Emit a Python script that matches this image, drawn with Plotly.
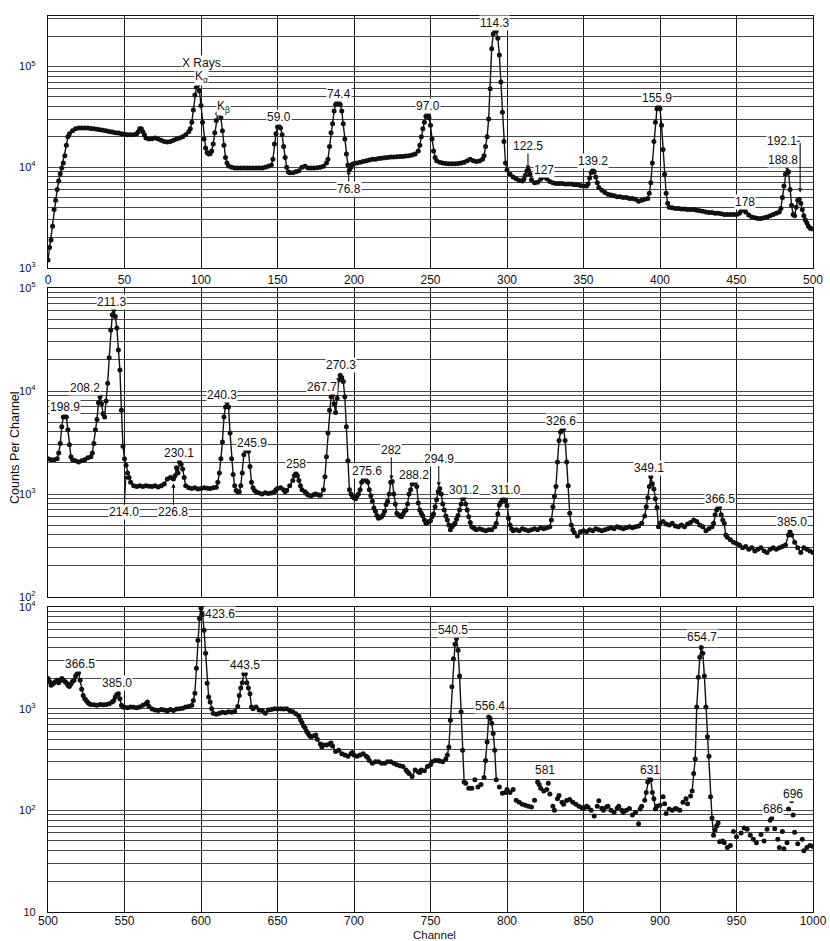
import numpy as np
import plotly.graph_objects as go

# ---------------- spectrum data (channel, counts per channel) ----------------
# upper range, channels 0-500
ch1 = [0, 1, 2, 3, 4, 5, 6, 7, 8, 9,
       10, 11, 12, 13, 14, 16, 18, 20, 22, 24,
       26, 28, 30, 32, 34, 36, 38, 40, 42, 44,
       46, 48, 50, 52, 54, 56, 58, 59, 60, 61,
       62, 63, 64, 66, 68, 70, 72, 74, 76, 78,
       80, 82, 84, 86, 88, 90, 92, 93, 94, 95,
       96, 97, 98, 99, 100, 101, 102, 103, 104, 105,
       106, 107, 108, 109, 110, 111, 112, 113, 114, 115,
       116, 117, 118, 120, 122, 124, 126, 128, 130, 132,
       134, 136, 138, 140, 142, 144, 146, 147, 148, 149,
       150, 151, 152, 153, 154, 155, 156, 157, 158, 160,
       162, 164, 166, 168, 170, 172, 174, 176, 178, 180,
       182, 183, 184, 185, 186, 187, 188, 189, 190, 191,
       192, 193, 194, 195, 196, 197, 198, 199, 200, 202,
       204, 206, 208, 210, 212, 214, 216, 218, 220, 222,
       224, 226, 228, 230, 232, 234, 236, 238, 240, 242,
       243, 244, 245, 246, 247, 248, 249, 250, 251, 252,
       253, 254, 256, 258, 260, 262, 264, 266, 268, 270,
       272, 274, 276, 278, 280, 282, 284, 285, 286, 287,
       288, 289, 290, 291, 292, 293, 294, 295, 296, 297,
       298, 299, 300, 302, 304, 306, 308, 310, 311, 312,
       313, 314, 315, 316, 318, 320, 322, 324, 325, 326,
       328, 330, 332, 334, 336, 338, 340, 342, 344, 346,
       348, 350, 352, 353, 354, 355, 356, 357, 358, 359,
       360, 362, 364, 366, 368, 370, 372, 374, 376, 378,
       380, 382, 384, 386, 388, 390, 392, 393, 394, 395,
       396, 397, 398, 399, 400, 401, 402, 403, 404, 405,
       406, 408, 410, 412, 414, 416, 418, 420, 422, 424,
       426, 428, 430, 432, 434, 436, 438, 440, 442, 444,
       446, 448, 450, 452, 453, 454, 455, 456, 458, 460,
       462, 464, 466, 468, 470, 472, 474, 476, 478, 479,
       480, 481, 482, 483, 484, 485, 486, 487, 488, 489,
       490, 491, 492, 493, 494, 495, 496, 497, 498, 499]
cps1 = [1200, 1600, 1900, 2600, 3800, 4700, 6000, 7300, 8600, 9800,
        11000, 13000, 16500, 20000, 21500, 23000, 24000, 24500, 24500, 24500,
        24500, 24200, 24000, 23800, 23500, 23200, 23000, 22600, 22300, 22000,
        21800, 21500, 21200, 21000, 21000, 21000, 21500, 22500, 24000, 24000,
        22500, 21000, 19500, 19000, 19200, 19500, 19000, 18500, 18000, 17800,
        18000, 18500, 19000, 19500, 20000, 21000, 22500, 24000, 28000, 37000,
        52000, 62000, 66000, 57000, 41000, 28000, 19000, 15500, 14000, 13500,
        13600, 14500, 17000, 22000, 29000, 34000, 35000, 31000, 23000, 16500,
        12500, 11000, 10300, 10000, 9800, 9800, 9800, 9800, 9800, 9800,
        9800, 9800, 9800, 9800, 10000, 10200, 10500, 12000, 17000, 21500,
        25000, 25500, 24500, 21000, 16000, 12500, 10000, 9000, 8800, 8800,
        9000, 9200, 10000, 10200, 9800, 9800, 9800, 9900, 10000, 10200,
        11000, 12000, 16000, 22000, 27000, 36000, 42000, 45000, 45000, 42000,
        36000, 27000, 19000, 13500, 10500, 9400, 10000, 10700, 10800, 11000,
        11200, 11400, 11600, 11800, 12000, 12000, 12200, 12300, 12400, 12500,
        12600, 12600, 12700, 12800, 12800, 12900, 13000, 13200, 13500, 14500,
        16500, 20000, 24000, 28000, 32000, 33000, 31000, 26000, 19000, 14500,
        12500, 11600, 11200, 11000, 10900, 10800, 10800, 10800, 10900, 11000,
        11200, 11600, 12000, 11600, 11400, 11500, 12000, 13000, 16000, 20000,
        30000, 60000, 150000, 210000, 230000, 225000, 190000, 130000, 70000, 35000,
        18000, 11000, 9400, 8500, 8000, 7700, 7400, 7300, 7600, 8300,
        9200, 9400, 8500, 7500, 7000, 7100, 7600, 8000, 8100, 7700,
        7200, 7000, 6900, 6900, 6900, 6800, 6800, 6800, 6700, 6700,
        6600, 6500, 6500, 6800, 7800, 8800, 9300, 9000, 8000, 7000,
        6300, 5900, 5600, 5400, 5300, 5200, 5100, 5100, 5000, 5000,
        4900, 4900, 4800, 4600, 4700, 4800, 4900, 5500, 7000, 11000,
        18000, 28000, 38000, 42000, 38000, 26000, 15000, 8500, 5500, 4400,
        4000, 3950, 3900, 3900, 3850, 3850, 3800, 3800, 3800, 3750,
        3700, 3650, 3600, 3550, 3550, 3500, 3500, 3450, 3400, 3400,
        3400, 3400, 3400, 3500, 3700, 3850, 3800, 3600, 3350, 3200,
        3150, 3100, 3100, 3150, 3200, 3300, 3400, 3500, 3600, 3900,
        5000, 6500, 8500, 10200, 9000, 6000, 4200, 3400, 3300, 4000,
        4700, 4800, 4400, 3800, 3300, 3000, 2800, 2600, 2500, 2450]

# middle range
ch2 = [500, 502, 504, 506, 507, 508, 509, 510, 511, 512,
       513, 514, 515, 516, 518, 520, 522, 524, 526, 528,
       529, 530, 531, 532, 533, 534, 535, 536, 537, 538,
       539, 540, 541, 542, 543, 544, 545, 546, 547, 548,
       549, 550, 551, 552, 553, 554, 556, 558, 560, 562,
       564, 566, 568, 570, 572, 574, 576, 578, 580, 582,
       583, 584, 585, 586, 587, 588, 589, 590, 592, 594,
       596, 598, 600, 602, 604, 606, 608, 610, 611, 612,
       613, 614, 615, 616, 617, 618, 619, 620, 621, 622,
       623, 624, 625, 626, 627, 628, 629, 630, 631, 632,
       633, 634, 635, 636, 638, 640, 642, 644, 646, 648,
       649, 650, 652, 654, 655, 656, 658, 660, 661, 662,
       663, 664, 665, 666, 668, 669, 670, 672, 674, 675,
       677, 678, 680, 681, 682, 683, 684, 685, 686, 687,
       688, 689, 690, 691, 692, 693, 694, 695, 696, 697,
       698, 699, 700, 701, 702, 703, 704, 705, 706, 707,
       708, 709, 710, 711, 712, 713, 714, 715, 716, 717,
       718, 719, 720, 721, 722, 723, 724, 725, 726, 727,
       728, 729, 730, 731, 732, 733, 734, 735, 736, 737,
       738, 739, 740, 741, 742, 743, 744, 745, 746, 747,
       748, 749, 750, 751, 752, 753, 754, 755, 756, 757,
       758, 759, 760, 761, 762, 763, 764, 765, 766, 767,
       768, 769, 770, 771, 772, 773, 774, 775, 776, 777,
       778, 779, 780, 782, 784, 786, 788, 790, 792, 793,
       794, 795, 796, 797, 798, 799, 800, 801, 802, 803,
       804, 806, 808, 810, 812, 814, 816, 818, 820, 822,
       824, 826, 828, 829, 830, 831, 832, 833, 834, 835,
       836, 837, 838, 839, 840, 841, 842, 843, 844, 846,
       848, 850, 852, 854, 856, 858, 860, 862, 864, 866,
       868, 870, 872, 874, 876, 878, 880, 882, 884, 886,
       888, 890, 891, 892, 893, 894, 895, 896, 897, 898,
       899, 900, 902, 904, 906, 908, 910, 912, 914, 916,
       918, 920, 922, 924, 926, 928, 930, 932, 934, 935,
       936, 937, 938, 939, 940, 941, 942, 943, 944, 946,
       948, 950, 952, 954, 956, 958, 960, 962, 964, 966,
       968, 970, 972, 974, 976, 978, 980, 982, 984, 985,
       986, 988, 990, 992, 994, 996, 998, 1000]
cps2 = [2200, 2150, 2150, 2200, 2500, 3100, 4500, 5600, 6100, 5600,
        4200, 3000, 2300, 2150, 2100, 2050, 2100, 2150, 2250, 2300,
        2500, 3100, 4200, 5300, 7700, 8800, 7500, 6000, 5600, 8000,
        11900, 21000, 39000, 55000, 62000, 53000, 41000, 25000, 16000, 6500,
        2900, 2200, 1900, 1600, 1450, 1300, 1200, 1180, 1200, 1180,
        1200, 1190, 1180, 1200, 1170, 1200, 1250, 1400, 1450, 1400,
        1500, 1800, 1600, 2050, 1950, 1750, 1450, 1200, 1150, 1130,
        1150, 1120, 1130, 1150, 1140, 1130, 1150, 1160, 1300, 1600,
        2200, 3200, 5600, 7000, 7800, 7000, 3900, 2200, 1550, 1200,
        1080, 1050, 1050, 1200, 1600, 2400, 2700, 2650, 2600, 1850,
        1300, 1150, 1080, 1050, 1020, 1000, 1030, 1010, 1020, 1050,
        1100, 1130, 1150, 1100, 1050, 1080, 1200, 1350, 1500, 1580,
        1500, 1350, 1200, 1100, 1050, 1010, 980, 960, 990, 1000,
        980, 970, 1100, 1470, 2300, 3900, 6500, 8800, 9200, 7500,
        6200, 8500, 12800, 14200, 13500, 12400, 8800, 4500, 2100, 1100,
        1000, 950, 920, 900, 960, 1000, 1100, 1300, 1420, 1400,
        1350, 1300, 1100, 960, 850, 730, 680, 620, 580, 590,
        600, 630, 680, 790, 850, 1000, 1300, 1320, 1000, 800,
        650, 630, 610, 600, 640, 680, 700, 800, 1000, 1100,
        1250, 1320, 1300, 1180, 820, 700, 650, 610, 560, 520,
        530, 540, 550, 600, 640, 750, 880, 1050, 1130, 1000,
        800, 700, 610, 560, 500, 450, 480, 500, 520, 570,
        620, 700, 800, 900, 940, 800, 700, 600, 530, 480,
        470, 460, 450, 460, 450, 440, 450, 450, 480, 520,
        640, 780, 830, 880, 900, 860, 770, 580, 500, 460,
        440, 450, 440, 460, 450, 440, 450, 460, 450, 470,
        460, 470, 480, 560, 750, 950, 1180, 2050, 3300, 4000,
        4350, 4300, 3300, 2050, 1200, 650, 500, 450, 420, 390,
        430, 440, 430, 450, 440, 460, 450, 440, 450, 460,
        470, 460, 480, 470, 460, 470, 480, 470, 480, 490,
        520, 610, 750, 920, 1180, 1470, 1260, 1120, 900, 740,
        480, 520, 540, 510, 500, 520, 490, 480, 500, 480,
        510, 530, 560, 540, 500, 480, 440, 460, 480, 520,
        630, 700, 740, 750, 630, 560, 520, 400, 380, 360,
        340, 330, 320, 300, 310, 290, 300, 280, 290, 300,
        280, 270, 290, 300, 290, 300, 310, 320, 400, 430,
        400, 340, 300, 270, 300, 290, 280, 270]

# lower range, channels 500-1000
ch3 = [500, 501, 502, 503, 504, 505, 506, 507, 508, 509,
       510, 511, 512, 513, 514, 515, 516, 517, 518, 519,
       520, 521, 522, 523, 524, 525, 526, 527, 528, 530,
       532, 534, 536, 538, 540, 542, 543, 544, 545, 546,
       547, 548, 549, 550, 552, 554, 556, 558, 560, 562,
       564, 565, 566, 568, 570, 572, 574, 576, 578, 580,
       582, 584, 586, 588, 590, 592, 594, 595, 596, 597,
       598, 599, 600, 601, 602, 603, 604, 605, 606, 607,
       608, 610, 612, 614, 616, 618, 620, 622, 624, 625,
       626, 627, 628, 629, 630, 631, 632, 633, 634, 636,
       638, 640, 642, 644, 646, 648, 650, 652, 654, 656,
       658, 660, 662, 664, 665, 666, 667, 668, 669, 670,
       671, 672, 674, 675, 676, 678, 679, 680, 682, 684,
       685, 686, 688, 690, 692, 694, 696, 698, 699, 700,
       702, 704, 706, 708, 709, 710, 712, 714, 716, 718,
       720, 722, 724, 726, 728, 730, 732, 734, 735, 736,
       738, 740, 742, 743, 744, 746, 748, 750, 751, 753,
       755, 756, 758, 760, 761, 762, 763, 764, 765, 766,
       767, 768, 769, 770, 771, 772, 773, 775, 777, 779,
       781, 783, 785, 786, 787, 788, 789, 790, 791, 792,
       793, 795, 797, 799, 800, 802, 804, 806, 808, 810,
       812, 814, 816, 818, 820, 821, 822, 824, 826, 827,
       828, 830, 831, 833, 834, 836, 837, 839, 841, 843,
       845, 847, 849, 850, 852, 853, 855, 857, 859, 860,
       862, 863, 865, 866, 868, 870, 872, 873, 875, 876,
       878, 880, 882, 884, 886, 887, 888, 890, 891, 892,
       893, 894, 895, 896, 897, 898, 900, 902, 903, 904,
       906, 908, 910, 911, 913, 915, 917, 918, 920, 921,
       922, 923, 924, 925, 926, 927, 928, 929, 930, 931,
       932, 933, 934, 935, 936, 937, 938, 939, 941, 942,
       944, 946, 948, 950, 953, 955, 957, 959, 961, 963,
       966, 968, 970, 972, 973, 975, 977, 978, 980, 981,
       983, 984, 986, 987, 988, 990, 993, 994, 996, 998,
       1000]
cps3 = [1980, 1850, 1700, 1750, 1800, 1850, 1900, 1800, 1900, 1980,
        1900, 1850, 1800, 1700, 1650, 1750, 1850, 1900, 2100, 2200,
        2250, 1900, 1550, 1350, 1250, 1200, 1150, 1120, 1100, 1090,
        1080, 1100, 1090, 1100, 1120, 1160, 1200, 1300, 1380, 1400,
        1250, 1080, 1040, 1030, 1020, 1040, 1030, 1020, 1040, 1080,
        1120, 1160, 1050, 990, 970, 960, 980, 970, 950, 980,
        960, 990, 1000, 1010, 1040, 1050, 1080, 1200, 1420, 2500,
        4700, 7700, 9700, 8500, 5900, 3500, 1780, 1300, 1160, 1000,
        900, 880, 900, 920, 910, 930, 920, 940, 1050, 1350,
        1600, 1800, 2200, 2200, 1800, 1600, 1400, 1040, 1000, 1040,
        970, 960, 900, 970, 980, 1000, 990, 1000, 990, 1000,
        960, 930, 890, 840, 780, 730, 680, 650, 600, 570,
        540, 530, 540, 550, 500, 450, 420, 440, 440, 450,
        460, 430, 380, 390, 360, 350, 340, 360, 370, 350,
        340, 350, 360, 340, 330, 310, 290, 300, 300, 290,
        290, 300, 300, 290, 280, 275, 270, 250, 240, 230,
        215, 250, 240, 235, 250, 245, 270, 280, 300, 310,
        310, 305, 300, 320, 350, 420, 770, 1640, 3100, 4300,
        4900, 3750, 2100, 930, 390, 190, 185, 165, 165, 200,
        170, 180, 210, 310, 470, 830, 800, 720, 570, 390,
        200, 170, 147, 150, 160, 150, 160, 126, 120, 115,
        112, 110, 108, 126, 190, 180, 165, 155, 160, 185,
        145, 110, 100, 130, 140, 120, 115, 125, 128, 120,
        115, 110, 106, 104, 110, 107, 100, 88, 110, 124,
        105, 100, 108, 110, 100, 96, 105, 110, 100, 96,
        100, 104, 90, 96, 74, 103, 110, 126, 150, 190,
        214, 200, 150, 130, 103, 110, 112, 136, 116, 93,
        103, 100, 104, 103, 100, 120, 130, 116, 138, 155,
        230, 320, 1040, 2040, 3200, 4000, 3500, 2100, 1040, 530,
        340, 136, 84, 57, 64, 70, 75, 49, 50, 48,
        43, 45, 62, 55, 60, 67, 65, 57, 52, 48,
        58, 50, 65, 80, 84, 66, 52, 43, 62, 42,
        48, 103, 124, 90, 61, 47, 52, 40, 43, 45,
        44]

# channel windows joined by a line in the lower range
line_windows3 = [(500, 772), (784, 794), (889, 897), (921, 935)]

# peak energy labels (keV): text, channel, counts where the label sits
lab1_text = ["X Rays", "K<sub>α</sub>", "K<sub>β</sub>", "59.0", "74.4", "97.0",
             "114.3", "127", "139.2", "155.9", "178", "188.8", "192.1"]
lab1_ch = [100, 100, 115, 151, 190, 248.5, 292, 324.5, 356, 398.3, 455.3, 480.3, 479.7]
lab1_cts = [1.09e5, 7.8e4, 4.0e4, 3.17e4, 5.27e4, 4.09e4, 2.72e5, 9.4e3, 1.14e4,
            4.87e4, 4.56e3, 1.19e4, 1.81e4]

lab2_text = ["198.9", "208.2", "211.3", "230.1", "240.3", "245.9", "258", "267.7",
             "270.3", "275.6", "288.2", "301.2", "311.0", "326.6", "349.1", "366.5", "385.0"]
lab2_ch = [511, 524, 541.7, 585.3, 613.7, 633.4, 662.4, 679.2,
           691.2, 708.7, 739.2, 772, 799.3, 835.3, 893, 939, 986]
lab2_cts = [7.0e3, 1.06e4, 7.35e4, 2.5e3, 9.1e3, 3.1e3, 1.95e3, 1.1e4,
            1.78e4, 1.68e3, 1.53e3, 1.09e3, 1.09e3, 5.1e3, 1.8e3, 900, 540]

lab3_text = ["366.5", "385.0", "423.6", "443.5", "540.5", "556.4", "581", "631",
             "654.7", "686", "696"]
lab3_ch = [521, 545, 612.6, 629, 765, 789, 824.6, 893.4, 927.6, 974, 987]
lab3_cts = [2.74e3, 1.77e3, 8.6e3, 2.7e3, 6.0e3, 1.06e3, 248, 248, 5.1e3, 102, 144]

# peaks marked with an arrow: text, channel and counts of the arrow tip
arrow_text = ["76.8", "122.5", "214.0", "226.8", "282", "294.9"]
arrow_panel = [1, 1, 2, 2, 2, 2]
arrow_ch = [196.5, 313.7, 551, 582, 724.4, 755.4]
arrow_cts = [9.4e3, 9.4e3, 1.53e3, 1.27e3, 1.37e3, 1.18e3]

# ---------------- figure ----------------
W, H = 830, 941
L, R = 48, 17
FONT = "Liberation Sans, Arial, sans-serif"
INK = "#111111"


def ydom(top, bottom):
    return [1 - bottom / H, 1 - top / H]


def log_ticks(lo, hi_exp):
    vals, text = [], []
    for e in range(lo, int(np.ceil(hi_exp)) + 1):
        for m in range(1, 10):
            v = m * 10.0 ** e
            if np.log10(v) <= hi_exp + 1e-9:
                vals.append(v)
                if m == 1:
                    text.append("10" if e == 1 else f"10<sup>{e}</sup>")
                else:
                    text.append("")
    return vals, text


def joined(ch, cts, windows):
    xs, ys = [], []
    for lo, hi in windows:
        for c, v in zip(ch, cts):
            if lo <= c <= hi:
                xs.append(c)
                ys.append(v)
        xs.append(None)
        ys.append(None)
    return xs, ys


fig = go.Figure()
mk = dict(size=5, color=INK)
ln = dict(color=INK, width=1.4)

fig.add_trace(go.Scatter(x=ch1, y=cps1, mode="lines+markers", marker=mk, line=ln,
                         xaxis="x", yaxis="y", showlegend=False))
fig.add_trace(go.Scatter(x=ch2, y=cps2, mode="lines+markers", marker=mk, line=ln,
                         xaxis="x2", yaxis="y2", showlegend=False))
lx, ly = joined(ch3, cps3, line_windows3)
fig.add_trace(go.Scatter(x=lx, y=ly, mode="lines", line=ln, connectgaps=False,
                         xaxis="x3", yaxis="y3", showlegend=False))
fig.add_trace(go.Scatter(x=ch3, y=cps3, mode="markers", marker=mk,
                         xaxis="x3", yaxis="y3", showlegend=False))

axis_common = dict(showline=True, mirror=True, linecolor=INK, linewidth=1.3,
                   zeroline=False, ticks="", automargin=False)
xgrid = dict(showgrid=True, gridcolor="#1a1a1a", gridwidth=1, dtick=50)
xtickfont = dict(family=FONT, size=12, color=INK)
ytickfont = dict(family=FONT, size=11, color=INK)

yt1 = log_ticks(3, 5.5)
yt2 = log_ticks(2, 5)
yt3 = log_ticks(1, 4)
ygrid = dict(showgrid=True, gridcolor="#4a4a4a", gridwidth=0.8, tickmode="array",
             ticklabelstandoff=9)

fig.update_layout(
    width=W, height=H,
    margin=dict(l=L, r=R, t=0, b=0),
    paper_bgcolor="white", plot_bgcolor="white",
    xaxis=dict(domain=[0, 1], anchor="y", range=[0, 500], tick0=0, tickfont=xtickfont,
               **xgrid, **axis_common),
    yaxis=dict(domain=ydom(16, 268), anchor="x", type="log", range=[3, 5.5],
               tickvals=yt1[0], ticktext=yt1[1], tickfont=ytickfont, **ygrid, **axis_common),
    xaxis2=dict(domain=[0, 1], anchor="y2", range=[500, 1000], tick0=0, showticklabels=False,
                **xgrid, **axis_common),
    yaxis2=dict(domain=ydom(288, 597), anchor="x2", type="log", range=[2, 5],
                tickvals=yt2[0], ticktext=yt2[1], tickfont=ytickfont, **ygrid, **axis_common),
    xaxis3=dict(domain=[0, 1], anchor="y3", range=[500, 1000], tick0=0, tickfont=xtickfont,
                ticklabelstandoff=-3, **xgrid, **axis_common),
    yaxis3=dict(domain=ydom(607, 912), anchor="x3", type="log", range=[1, 4],
                tickvals=yt3[0], ticktext=yt3[1], tickfont=ytickfont, **ygrid, **axis_common),
)

lab_font = dict(family=FONT, size=12, color=INK)
ann = []
for texts, chans, cts, ax_id in [(lab1_text, lab1_ch, lab1_cts, ""),
                                 (lab2_text, lab2_ch, lab2_cts, "2"),
                                 (lab3_text, lab3_ch, lab3_cts, "3")]:
    for t, c, v in zip(texts, chans, cts):
        ann.append(dict(text=t, x=c, y=np.log10(v), xref="x" + ax_id, yref="y" + ax_id,
                        showarrow=False, font=lab_font, bgcolor="white", borderpad=0))

# arrow tail offsets in pixels (text sits at the tail)
arrow_dy = {"76.8": 19, "122.5": -24, "214.0": 37, "226.8": 29, "282": -30, "294.9": -28}
arrow_dx = {"214.0": -2}
for t, p, c, v in zip(arrow_text, arrow_panel, arrow_ch, arrow_cts):
    sfx = "" if p == 1 else str(p)
    ann.append(dict(text=t, x=c, y=np.log10(v), xref="x" + sfx, yref="y" + sfx,
                    showarrow=True, ax=arrow_dx.get(t, 0), ay=arrow_dy[t],
                    arrowhead=2, arrowsize=0.8, arrowwidth=1.1, arrowcolor=INK,
                    font=lab_font, bgcolor="white", borderpad=0, standoff=0))

# bracket from the 192.1 label down to its peak
ann.append(dict(text="", x=491.6, y=np.log10(5.6e3), xref="x", yref="y",
                showarrow=True, ax=0, ay=-51, arrowhead=2, arrowsize=0.8,
                arrowwidth=1.1, arrowcolor=INK))
ann.append(dict(text="", x=491.6, y=np.log10(1.81e4), xref="x", yref="y",
                showarrow=True, ax=-5, ay=0, arrowhead=0, arrowwidth=1.1, arrowcolor=INK))

# axis titles
ann.append(dict(text="Counts Per Channel", x=(15 - L) / (W - L - R), y=1 - 448 / H,
                xref="paper", yref="paper", showarrow=False, textangle=-90,
                xanchor="center", yanchor="middle",
                font=dict(family=FONT, size=12.5, color=INK)))
ann.append(dict(text="Channel", x=(434 - L) / (W - L - R), y=1 - 934.5 / H,
                xref="paper", yref="paper", showarrow=False,
                xanchor="center", yanchor="middle",
                font=dict(family=FONT, size=11.5, color=INK)))

fig.update_layout(annotations=ann)
fig.write_html("out.html")
